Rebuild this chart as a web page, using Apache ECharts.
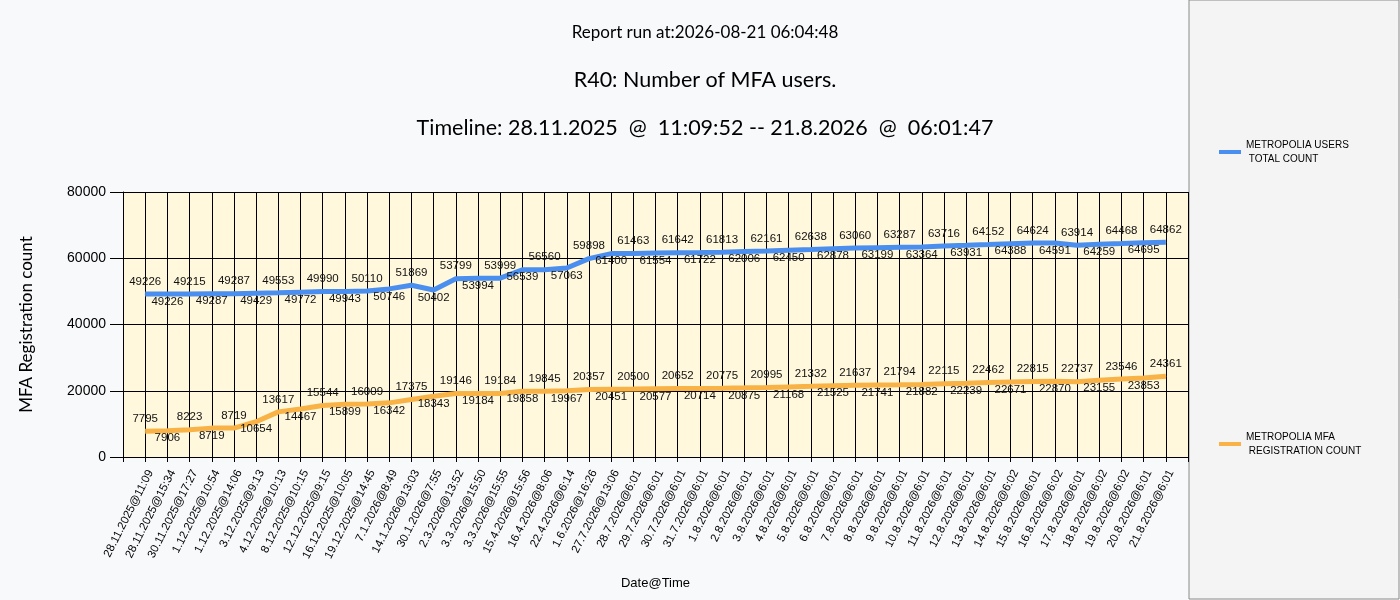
<!DOCTYPE html>
<html>
<head>
<meta charset="utf-8">
<title>R40: Number of MFA users</title>
<script src="https://cdn.jsdelivr.net/npm/echarts@6/dist/echarts.min.js"></script>
<style>
  html, body { margin: 0; padding: 0; background: #f8f9fb; }
  #chart { width: 1400px; height: 600px; }
</style>
</head>
<body>
<div id="chart"></div>
<script>
// run timestamps (x categories)
const categories = [
  '28.11.2025@11:09', '28.11.2025@15:34', '30.11.2025@17:27', '1.12.2025@10:54',
  '1.12.2025@14:06', '3.12.2025@9:13', '4.12.2025@10:13', '8.12.2025@10:15',
  '12.12.2025@9:15', '16.12.2025@10:05', '19.12.2025@14:45', '7.1.2026@8:49',
  '14.1.2026@13:03', '30.1.2026@7:55', '2.3.2026@13:52', '3.3.2026@15:50',
  '3.3.2026@15:55', '15.4.2026@15:56', '16.4.2026@8:06', '22.4.2026@6:14',
  '1.6.2026@16:26', '27.7.2026@13:06', '28.7.2026@6:01', '29.7.2026@6:01',
  '30.7.2026@6:01', '31.7.2026@6:01', '1.8.2026@6:01', '2.8.2026@6:01',
  '3.8.2026@6:01', '4.8.2026@6:01', '5.8.2026@6:01', '6.8.2026@6:01',
  '7.8.2026@6:01', '8.8.2026@6:01', '9.8.2026@6:01', '10.8.2026@6:01',
  '11.8.2026@6:01', '12.8.2026@6:01', '13.8.2026@6:01', '14.8.2026@6:02',
  '15.8.2026@6:01', '16.8.2026@6:02', '17.8.2026@6:01', '18.8.2026@6:02',
  '19.8.2026@6:02', '20.8.2026@6:01', '21.8.2026@6:01'
];

const usersTotal = [
  49226, 49226, 49215, 49287, 49287, 49429, 49553, 49772, 49990, 49943,
  50110, 50746, 51869, 50402, 53799, 53994, 53999, 56539, 56560, 57063,
  59898, 61400, 61463, 61554, 61642, 61722, 61813, 62006, 62161, 62450,
  62638, 62878, 63060, 63199, 63287, 63364, 63716, 63931, 64152, 64388,
  64624, 64591, 63914, 64259, 64468, 64695, 64862
];

const mfaCount = [
  7795, 7906, 8223, 8719, 8719, 10654, 13617, 14467, 15544, 15899,
  16009, 16342, 17375, 18343, 19146, 19184, 19184, 19858, 19845, 19967,
  20357, 20451, 20500, 20577, 20652, 20714, 20775, 20875, 20995, 21168,
  21332, 21525, 21637, 21741, 21794, 21882, 22115, 22239, 22462, 22671,
  22815, 22870, 22737, 23155, 23546, 23853, 24361
];

const yTicks = [0, 20000, 40000, 60000, 80000];

const seriesNames = ['METROPOLIA USERS TOTAL COUNT', 'METROPOLIA MFA REGISTRATION COUNT'];
const legendText = {
  'METROPOLIA USERS TOTAL COUNT': 'METROPOLIA USERS\n TOTAL COUNT',
  'METROPOLIA MFA REGISTRATION COUNT': 'METROPOLIA MFA\n REGISTRATION COUNT'
};

// points sit on integer slots 1..n, slots 0 and n+1 are the plot edges
// labels alternate above / below the line
function toPoints(vals) {
  return vals.map((v, i) => ({
    value: [i + 1, v],
    label: i % 2 === 0 ? { position: 'top', distance: 6 } : { position: 'bottom', distance: 1 }
  }));
}

const labelFont = { fontFamily: 'Liberation Sans', fontSize: 11.5, color: '#111' };

function lineSeries(name, vals, color) {
  return {
    name: name,
    type: 'line',
    data: toPoints(vals),
    symbol: 'circle',
    symbolSize: 1,
    showSymbol: true,
    showAllSymbol: true,
    color: color,
    itemStyle: { color: color },
    lineStyle: { width: 5, color: color },
    label: Object.assign({ show: true }, labelFont),
    labelLayout: { hideOverlap: false }
  };
}

const chart = echarts.init(document.getElementById('chart'));

chart.setOption({
  backgroundColor: '#f8f9fb',
  animation: false,
  title: [
    { text: 'Report run at:2026-08-21 06:04:48', left: 700, top: 19, textAlign: 'center',
      textStyle: { fontFamily: 'Lato', fontSize: 17, fontWeight: 'normal', color: '#000' } },
    { text: 'R40: Number of MFA users.', left: 700, top: 64, textAlign: 'center',
      textStyle: { fontFamily: 'Lato', fontSize: 21.5, fontWeight: 'normal', color: '#000' } },
    { text: 'Timeline: 28.11.2025  @  11:09:52 -- 21.8.2026  @  06:01:47', left: 700, top: 112, textAlign: 'center',
      textStyle: { fontFamily: 'Lato', fontSize: 21.5, fontWeight: 'normal', color: '#000' } }
  ],
  graphic: [
    { type: 'rect', z: -1, shape: { x: 1189, y: 0, width: 210, height: 599 },
      style: { fill: '#f4f4f4', stroke: '#8a8a8a', lineWidth: 1 } }
  ],
  legend: {
    orient: 'vertical',
    left: 1214,
    top: 133,
    itemGap: 264,
    icon: 'rect',
    itemWidth: 22,
    itemHeight: 4,
    data: seriesNames,
    formatter: n => legendText[n],
    textStyle: { fontFamily: 'Liberation Sans', fontSize: 10, color: '#000', lineHeight: 14 }
  },
  grid: { left: 123, right: 212, top: 192, bottom: 143, show: true, backgroundColor: '#fff8dc', borderWidth: 0 },
  xAxis: {
    type: 'value',
    min: 0,
    max: categories.length + 1,
    interval: 1,
    name: 'Date@Time',
    nameLocation: 'middle',
    nameGap: 120,
    nameTextStyle: { fontFamily: 'Liberation Sans', fontSize: 13, color: '#000' },
    axisLine: { lineStyle: { color: '#000', width: 1 } },
    axisTick: { length: 5, lineStyle: { color: '#000' } },
    axisLabel: {
      rotate: 63,
      margin: 11,
      verticalAlign: 'top',
      fontFamily: 'Liberation Sans',
      fontSize: 11.5,
      color: '#000',
      formatter: v => categories[v - 1] || ''
    },
    splitLine: { show: true, lineStyle: { color: '#000', width: 1 } }
  },
  yAxis: {
    type: 'value',
    min: yTicks[0],
    max: yTicks[yTicks.length - 1],
    interval: 20000,
    name: 'MFA Registration count',
    nameLocation: 'middle',
    nameGap: 88,
    nameTextStyle: { fontFamily: 'Lato', fontSize: 17, color: '#000' },
    axisLine: { show: true, lineStyle: { color: '#000' } },
    axisTick: { show: true, length: 13, lineStyle: { color: '#000' } },
    axisLabel: { margin: 17, fontFamily: 'Liberation Sans', fontSize: 14, color: '#000', formatter: v => String(v) },
    splitLine: { show: true, lineStyle: { color: '#000', width: 1 } }
  },
  series: [
    lineSeries(seriesNames[0], usersTotal, '#4a8ef0'),
    lineSeries(seriesNames[1], mfaCount, '#f9b246')
  ]
});
</script>
</body>
</html>
